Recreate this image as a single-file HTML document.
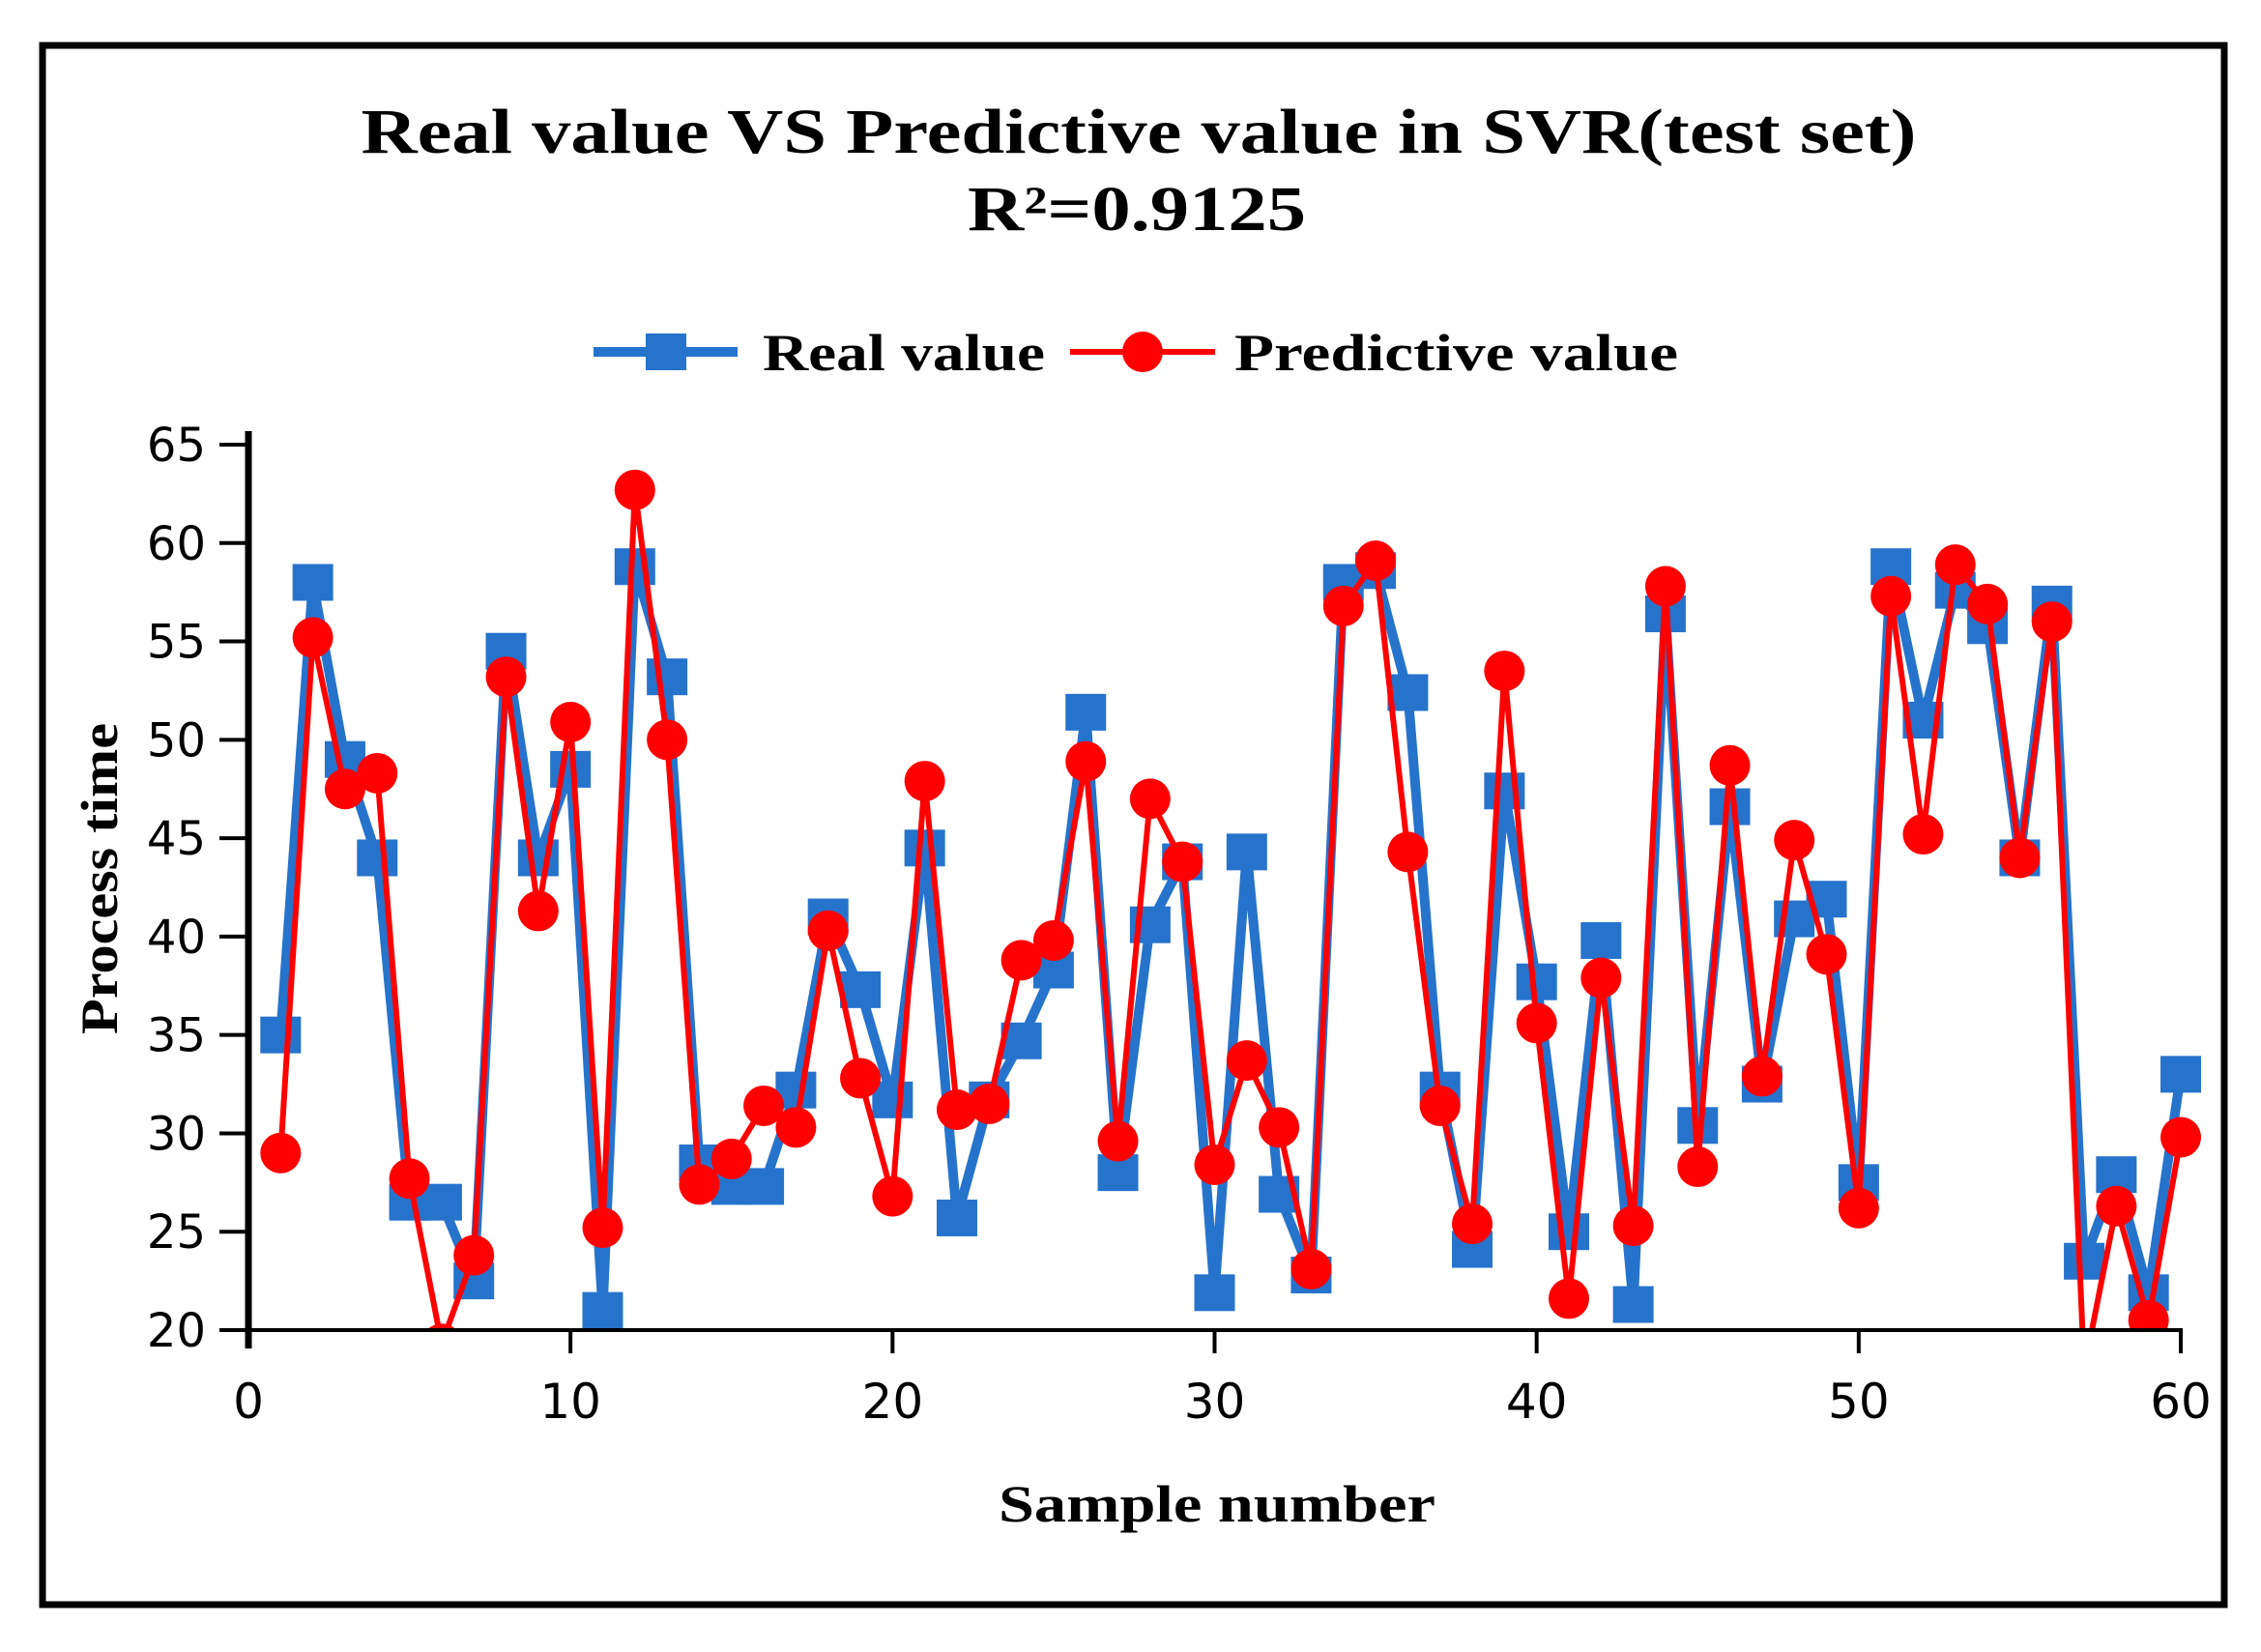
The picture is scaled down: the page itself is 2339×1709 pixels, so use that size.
<!DOCTYPE html>
<html><head><meta charset="utf-8"><style>
html,body{margin:0;padding:0;background:#fff;}
svg{display:block;}
</style></head><body>
<svg id="chart" width="2339" height="1709" viewBox="0 0 2339 1709" xmlns="http://www.w3.org/2000/svg">
<rect x="44" y="47" width="2257" height="1613" fill="none" stroke="#000" stroke-width="7"/>
<text x="1178" y="158" text-anchor="middle" font-family="Liberation Serif, serif" font-weight="bold" font-size="66" textLength="1609" lengthAdjust="spacingAndGlyphs">Real value VS Predictive value in SVR(test set)</text>
<text x="1176" y="238" text-anchor="middle" font-family="Liberation Serif, serif" font-weight="bold" font-size="66" textLength="350" lengthAdjust="spacingAndGlyphs">R²=0.9125</text>
<g>
<g>
<line x1="614" y1="364" x2="763" y2="364" stroke="#2673cc" stroke-width="10"/>
<rect x="668" y="345" width="42" height="38" fill="#2673cc"/>
<text x="789" y="383" font-family="Liberation Serif, serif" font-weight="bold" font-size="54" textLength="292" lengthAdjust="spacingAndGlyphs">Real value</text>
</g>
<g>
<line x1="1107" y1="364" x2="1257" y2="364" stroke="#ff0000" stroke-width="6"/>
<circle cx="1182" cy="364" r="21" fill="#ff0000"/>
<text x="1277" y="383" font-family="Liberation Serif, serif" font-weight="bold" font-size="54" textLength="459" lengthAdjust="spacingAndGlyphs">Predictive value</text>
</g>
</g>
<defs><clipPath id="plotclip"><rect x="150" y="300" width="2150" height="1076"/></clipPath></defs>
<g id="series" clip-path="url(#plotclip)"></g>
<g id="axes"></g>
<text x="1259" y="1574" text-anchor="middle" font-family="Liberation Serif, serif" font-weight="bold" font-size="54" textLength="452" lengthAdjust="spacingAndGlyphs">Sample number</text>
<text transform="translate(121,909) rotate(-90)" text-anchor="middle" font-family="Liberation Serif, serif" font-weight="bold" font-size="54" textLength="322" lengthAdjust="spacingAndGlyphs">Process time</text>
</svg>
<script>
const samples = Array.from({length:60},(_,i)=>i+1);
const realValues = [35,58,49,44,26.5,26.5,22.5,54.5,44,48.5,21,58.8,53.2,28.5,27.3,27.3,32.2,41,37.3,31.7,44.5,25.7,31.7,34.7,38.3,51.4,28,40.6,43.8,21.9,44.3,26.9,22.8,58,58.6,52.4,32.2,24.1,47.4,37.7,25,39.8,21.3,56.4,30.4,46.6,32.5,40.9,41.9,27.5,58.8,51,57.6,55.8,44,56.9,23.5,27.9,21.9,33];
const predValues = [29,55.2,47.5,48.3,27.7,19.3,23.8,53.2,41.3,50.9,25.2,62.7,50,27.4,28.7,31.4,30.3,40.3,32.8,26.8,47.9,31.2,31.5,38.8,39.8,48.9,29.6,47,43.8,28.4,33.7,30.3,23.1,56.8,59.1,44.3,31.4,25.4,53.5,35.6,21.6,37.9,25.3,57.8,28.3,48.7,32.9,44.9,39.1,26.2,57.3,45.2,58.9,56.9,44,56,18,26.3,20.5,29.8];
const xTicks = [0,10,20,30,40,50,60];
const yTicks = [20,25,30,35,40,45,50,55,60,65];

const NS="http://www.w3.org/2000/svg";
const X0=257,X1=2256,Y0=1376,Y1=460;
const xs=v=>X0+(v-0)/(60-0)*(X1-X0);
const ys=v=>Y0-(v-20)/(65-20)*(Y0-Y1);
function mk(tag,attrs,parent){const e=document.createElementNS(NS,tag);for(const k in attrs)e.setAttribute(k,attrs[k]);parent.appendChild(e);return e;}
const series=document.getElementById('series');
const axes=document.getElementById('axes');

const realLine=mk('polyline',{points:samples.map((s,i)=>xs(s)+','+ys(realValues[i])).join(' '),fill:'none',stroke:'#2673cc','stroke-width':10,'stroke-linejoin':'miter'},series);


samples.forEach((s,i)=>{
  const r=mk('rect',{x:xs(s)-21,y:ys(realValues[i])-19,width:42,height:38,fill:'#2673cc'},series);
  
  
});
const predLine=mk('polyline',{points:samples.map((s,i)=>xs(s)+','+ys(predValues[i])).join(' '),fill:'none',stroke:'#ff0000','stroke-width':6,'stroke-linejoin':'round'},series);


samples.forEach((s,i)=>{
  const c=mk('circle',{cx:xs(s),cy:ys(predValues[i]),r:21,fill:'#ff0000'},series);
  
  
});

const ya=mk('line',{x1:X0,y1:446,x2:X0,y2:1395,stroke:'#000','stroke-width':7},axes);


const xa=mk('line',{x1:X0,y1:Y0,x2:X1+2,y2:Y0,stroke:'#000','stroke-width':4},axes);


yTicks.forEach(t=>{
  const l=mk('line',{x1:227,y1:ys(t),x2:X0,y2:ys(t),stroke:'#000','stroke-width':4},axes);
  
  
  const tx=mk('text',{x:213,y:ys(t)+17,'text-anchor':'end','font-family':'DejaVu Sans, sans-serif','font-size':48},axes);
  tx.textContent=t;
  
  
});
xTicks.forEach(t=>{
  if(t>0){const l=mk('line',{x1:xs(t),y1:Y0,x2:xs(t),y2:1400,stroke:'#000','stroke-width':4},axes);
  
  }
  const tx=mk('text',{x:xs(t),y:1467,'text-anchor':'middle','font-family':'DejaVu Sans, sans-serif','font-size':50},axes);
  tx.textContent=t;
  
  
});
</script>
</body></html>
